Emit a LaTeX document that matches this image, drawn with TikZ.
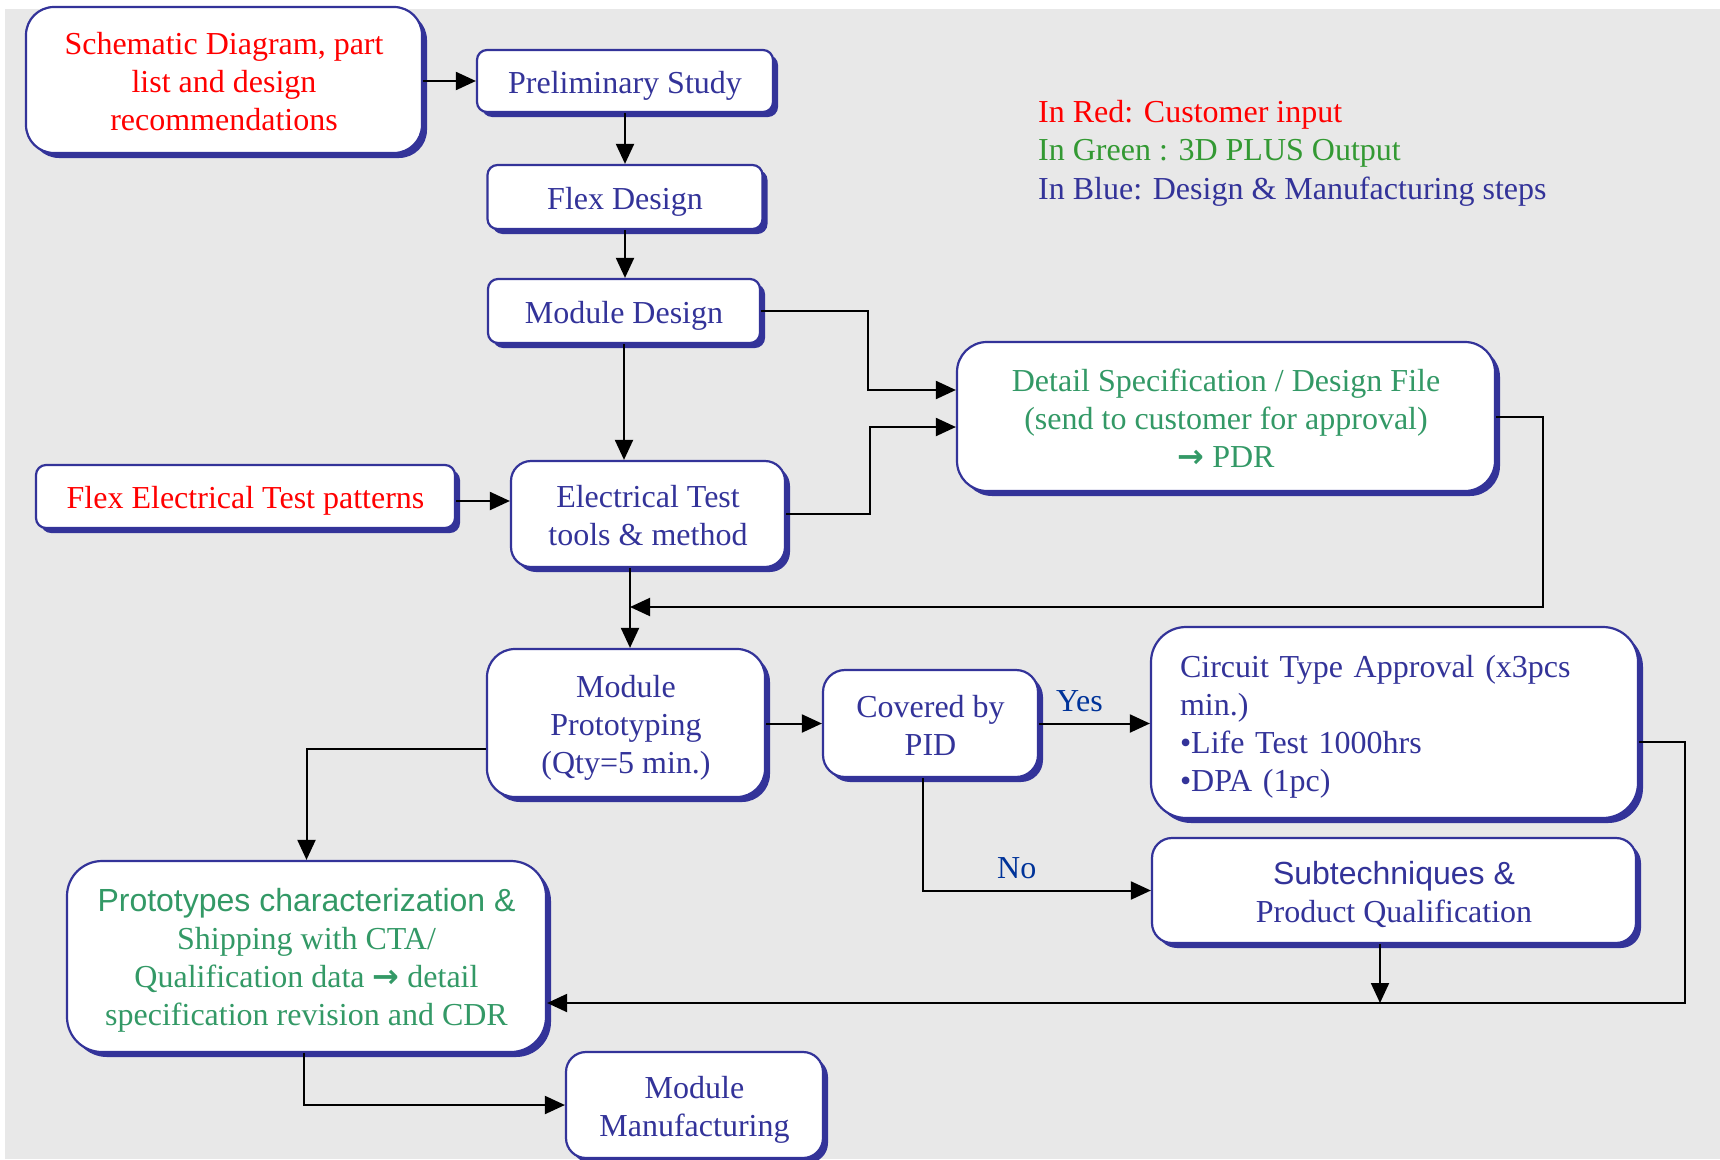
\documentclass[tikz,border=0pt]{standalone}
\usepackage{fontspec}
\setmainfont{Liberation Serif}
\setsansfont{Liberation Sans}
\newfontfamily\arrfont{DejaVu Sans}
\usetikzlibrary{arrows.meta,shadows,calc}
\definecolor{boxblue}{RGB}{51,51,153}
\definecolor{custred}{RGB}{255,0,0}
\definecolor{outgreen}{RGB}{51,153,102}
\definecolor{leggreen}{RGB}{51,153,51}
\definecolor{yesno}{RGB}{0,51,153}
\definecolor{bggray}{RGB}{232,232,232}
\newcommand{\linestrut}{\rule[-6.5pt]{0pt}{38pt}}
\newcommand{\thickarrow}{{\arrfont\bfseries →}}
\tikzset{
  box/.style={draw=boxblue, line width=2.2pt, fill=white, inner sep=0pt, align=center,
    text=boxblue, font=\fontsize{32}{38}\selectfont,
    execute at begin node=\linestrut, execute at end node=\linestrut,
    drop shadow={shadow xshift=5pt, shadow yshift=-5pt, fill=boxblue, opacity=1}},
  conn/.style={draw=black, line width=2pt, -{Triangle[length=20pt,width=18pt]}},
  lbl/.style={font=\fontsize{32}{38}\selectfont, inner sep=0pt},
}
\begin{document}
\begin{tikzpicture}[x=1pt,y=-1pt]
\useasboundingbox (0,0) rectangle (1720,1159);
\fill[bggray] (5,9) rectangle (1720,1159);

% boxes
\node[box, rounded corners=28pt, minimum width=396pt, minimum height=146pt, text=custred] (sch) at (224,80)
  {\linestrut Schematic Diagram, part\\list and design\\recommendations};
\node[box, rounded corners=10pt, minimum width=296pt, minimum height=62pt] (pre) at (625,81) {Preliminary Study};
\node[box, rounded corners=10pt, minimum width=275pt, minimum height=64pt] (flex) at (625,197) {Flex Design};
\node[box, rounded corners=10pt, minimum width=272pt, minimum height=64pt] (mod) at (624,311) {Module Design};
\node[box, rounded corners=30pt, minimum width=538pt, minimum height=149pt, text=outgreen] (spec) at (1226,416.5)
  {\linestrut Detail Specification / Design File\\(send to customer for approval)\\\thickarrow{} PDR};
\node[box, rounded corners=10pt, minimum width=419pt, minimum height=63pt, text=custred] (fet) at (245.5,496.5)
  {Flex Electrical Test patterns};
\node[box, rounded corners=20pt, minimum width=274pt, minimum height=106pt] (elt) at (648,514)
  {\linestrut Electrical Test\\tools \& method};
\node[box, rounded corners=28pt, minimum width=278pt, minimum height=148pt] (proto) at (626,723)
  {\linestrut Module\\Prototyping\\(Qty=5 min.)};
\node[box, rounded corners=22pt, minimum width=215pt, minimum height=107pt] (pid) at (930.5,723.5)
  {\linestrut Covered by\\PID};
\node[box, rounded corners=35pt, minimum width=487pt, minimum height=191pt, text width=429pt, align=left] (cta) at (1394.5,722.5)
  {Circuit Type Approval (x3pcs\\min.)\\•Life Test 1000hrs\\•DPA (1pc)};
\node[box, rounded corners=20pt, minimum width=484pt, minimum height=105pt] (sub) at (1394,890.5)
  {\linestrut{\sffamily Subtechniques \&}\\Product Qualification};
\node[box, rounded corners=35pt, minimum width=479pt, minimum height=191pt, text=outgreen] (pc) at (306.5,956.5)
  {\linestrut{\sffamily Prototypes characterization \&}\\Shipping with CTA/\\Qualification data \thickarrow{} detail\\specification revision and CDR};
\node[box, rounded corners=20pt, minimum width=257pt, minimum height=106pt] (mm) at (694.5,1105)
  {\linestrut Module\\Manufacturing};

% legend
\node[lbl, anchor=base west, text=custred] (leg1) at (1038,122) {In Red: Customer input};
\node[lbl, anchor=base west, text=leggreen] (leg2) at (1038,160) {In Green : 3D PLUS Output};
\node[lbl, anchor=base west, text=boxblue] (leg3) at (1038,199) {In Blue: Design \& Manufacturing steps};

% helper coordinates
\coordinate (k1) at (868,390);
\coordinate (k2) at (870,427);
\coordinate (y501) at (0,501);
\coordinate (x630) at (630,0);
\coordinate (k4) at (1543,607);
\coordinate (y749) at (0,749);
\coordinate (x923) at (923,0);
\coordinate (k5) at (1685,742);
\coordinate (y1003) at (0,1003);
\coordinate (x1380) at (1380,0);
\coordinate (x304) at (304,0);

% connectors
\draw[conn] (sch.east |- pre.west) -- (pre.west);
\draw[conn] (pre.south) -- (pre.south |- flex.north);
\draw[conn] (flex.south) -- (flex.south |- mod.north);
\draw[conn] (mod.south) -- (mod.south |- elt.north);
\draw[conn] (mod.east) -| (k1) -- (k1 -| spec.west);
\draw[conn] (elt.east) -| (k2) -- (k2 -| spec.west);
\draw[conn] (fet.east |- y501) -- (elt.west |- y501);
\draw[conn] (x630 |- elt.south) -- (x630 |- proto.north);
\draw[conn] (spec.east) -| (k4) -- (x630 |- k4);
\draw[conn] (proto.east |- pid.west) -- (pid.west);
\draw[conn] (proto.west |- y749) -| (pc.north);
\draw[conn] (pid.east) -- (pid.east -| cta.west);
\draw[conn] (x923 |- pid.south) |- (sub.west);
\draw[conn] (cta.east |- k5) -- (k5) |- (pc.east |- y1003);
\draw[conn] (x1380 |- sub.south) -- (x1380 |- y1003);
\draw[conn] (x304 |- pc.south) |- (mm.west);

% labels
\node[lbl, anchor=base west, text=yesno] (yes) at (1056,711) {Yes};
\node[lbl, anchor=base west, text=yesno] (no) at (997,878) {No};
\end{tikzpicture}
\end{document}
